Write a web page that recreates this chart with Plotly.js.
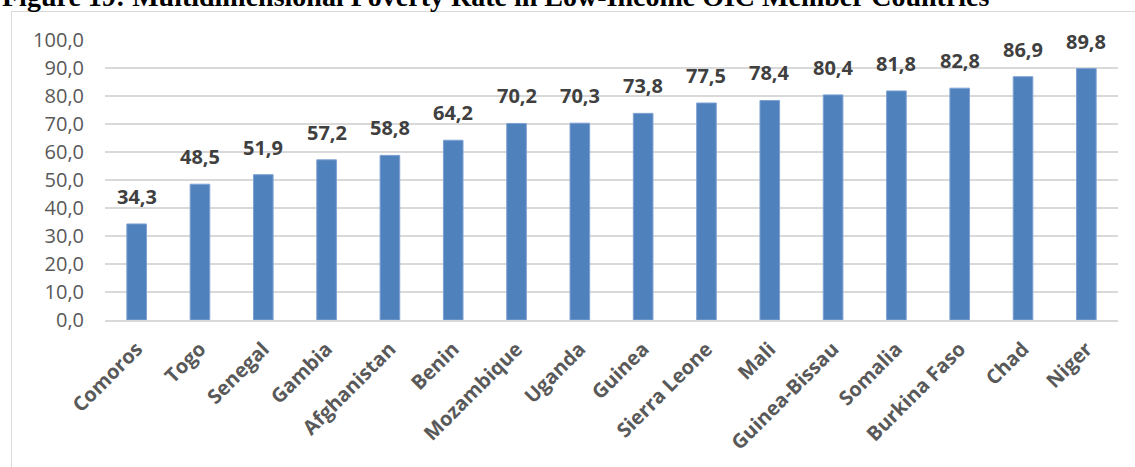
<!DOCTYPE html>
<html>
<head>
<meta charset="utf-8">
<script src="https://cdn.plot.ly/plotly-3.0.1.min.js"></script>
<style>
html,body{margin:0;padding:0;background:#fff;overflow:hidden;}
#frame{position:absolute;left:11px;top:11px;width:1140px;height:470px;border:1px solid #d9d9d9;box-sizing:border-box;}
#chart{position:absolute;left:0;top:0;width:1135px;height:467px;}
</style>
</head>
<body>
<div id="frame"></div>
<div id="chart"></div>
<script>
const countries = ["Comoros","Togo","Senegal","Gambia","Afghanistan","Benin","Mozambique","Uganda","Guinea","Sierra Leone","Mali","Guinea-Bissau","Somalia","Burkina Faso","Chad","Niger"];
const povertyRate = [34.3,48.5,51.9,57.2,58.8,64.2,70.2,70.3,73.8,77.5,78.4,80.4,81.8,82.8,86.9,89.8];
const yTicks = [0,10,20,30,40,50,60,70,80,90,100];
const chartTitle = "Figure 19: Multidimensional Poverty Rate in Low-Income OIC Member Countries";

const fmt = v => v.toFixed(1).replace('.', ',');

const trace = {
  type: 'bar',
  x: countries,
  y: povertyRate,
  marker: {color: '#4f81bd', line: {color: '#7fa2d2', width: 1}},
  hoverinfo: 'x+y'
};

const labelAnns = countries.map((c, i) => ({
  x: c, y: povertyRate[i], xref: 'x', yref: 'y',
  text: fmt(povertyRate[i]), showarrow: false,
  yanchor: 'bottom', yshift: 12,
  font: {family: 'Open Sans', size: 20, color: '#404040', weight: 'bold'}
}));

labelAnns.push({
  xref: 'paper', yref: 'paper', x: 0, y: 1, xanchor: 'left', yanchor: 'bottom',
  xshift: -105, yshift: 26,
  text: '<b>' + chartTitle + '</b>', showarrow: false,
  font: {family: 'Liberation Serif', size: 28, color: '#000'}
});

const layout = {
  width: 1135, height: 467,
  margin: {l: 105, r: 17, t: 39.5, b: 146.5},
  paper_bgcolor: 'rgba(0,0,0,0)',
  plot_bgcolor: 'rgba(0,0,0,0)',
  separators: ',.',
  bargap: 0.69,
  showlegend: false,
  xaxis: {
    type: 'category',
    tickangle: -45,
    tickfont: {family: 'Open Sans', size: 20, color: '#595959', weight: 'bold'},
    showline: true, linecolor: '#d9d9d9', linewidth: 1.5,
    ticks: '', showgrid: false, ticklabelstandoff: 8
  },
  yaxis: {
    range: [0, 100],
    tickvals: yTicks,
    tickformat: '.1f',
    tickfont: {family: 'Open Sans', size: 20, color: '#595959'},
    gridcolor: '#d9d9d9', gridwidth: 1.5,
    zeroline: false,
    ticks: '', ticklabelstandoff: 20
  },
  annotations: labelAnns
};

Plotly.newPlot('chart', [trace], layout, {displayModeBar: false, staticPlot: true});
</script>
</body>
</html>
